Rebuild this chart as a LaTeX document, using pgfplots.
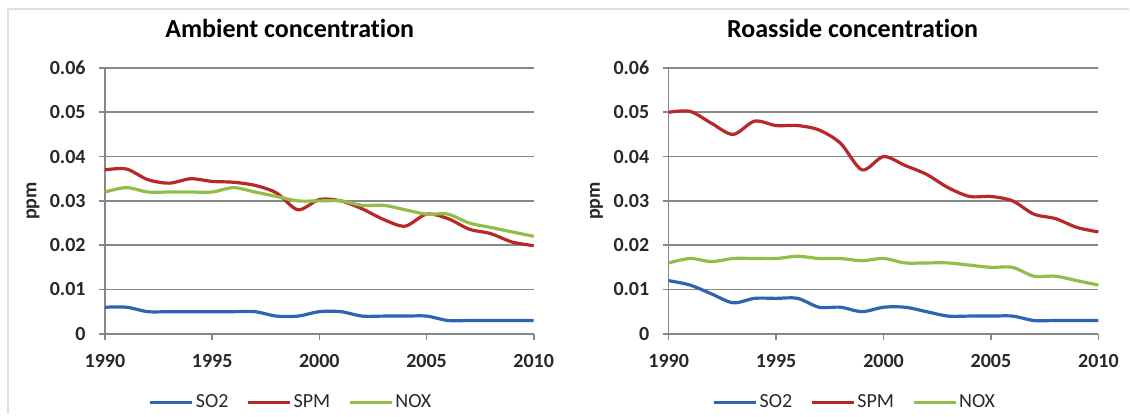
\documentclass[border=0pt]{standalone}
\usepackage{pgfplots}
\pgfplotsset{compat=1.18}
\usepackage{fontspec}
\setmainfont{Carlito}[Ligatures=CommonOff]
\definecolor{cso}{RGB}{47,100,178}
\definecolor{cspm}{RGB}{185,40,40}
\definecolor{cnox}{RGB}{146,190,72}
\definecolor{gridc}{RGB}{135,135,135}
\definecolor{tickc}{RGB}{40,40,40}

\pgfplotsset{
  myax/.style={
    scale only axis, height=133pt,
    xmin=1990, xmax=2010, ymin=0, ymax=0.06, clip=false,
    axis lines*=left,
    axis line style={draw=gridc, line width=0.8pt},
    ymajorgrids, grid style={draw=gridc, line width=0.8pt},
    tick align=outside, major tick length=3pt,
    tick style={draw=gridc, line width=0.8pt},
    xtick={1990,1995,2000,2005,2010},
    xticklabels={1990,1995,2000,2005,2010},
    ytick={0,0.01,0.02,0.03,0.04,0.05,0.06},
    yticklabels={0,0.01,0.02,0.03,0.04,0.05,0.06},
    scaled y ticks=false,
    /pgf/number format/assume math mode=true,
    yticklabel style={font=\bfseries\fontsize{10}{12}\selectfont, text=tickc, inner sep=0pt, anchor=east, xshift=-6.5pt},
    xticklabel style={font=\bfseries\fontsize{10}{12}\selectfont, text=tickc, inner sep=0pt, anchor=north, yshift=-7pt},
    ylabel={ppm},
    ylabel style={at={(axis description cs:-0.168,0.5)}, anchor=center, font=\bfseries\fontsize{10}{12}\selectfont, text=tickc},
    legend columns=3,
    legend style={draw=none, fill=none, font=\fontsize{10}{12}\selectfont, text=tickc,
      anchor=center, nodes={inner sep=1pt},
      /tikz/every even column/.append style={column sep=8pt}},
    legend image code/.code={\draw[#1] (0pt,0pt) -- (21pt,0pt);},
    every axis plot/.append style={line width=1.6pt, smooth, tension=0.5, no markers},
  }
}

\pgfplotstableread{
year so2 spm nox
1990 0.006 0.0370 0.032
1991 0.006 0.0372 0.033
1992 0.005 0.0348 0.032
1993 0.005 0.0340 0.032
1994 0.005 0.0350 0.032
1995 0.005 0.0344 0.032
1996 0.005 0.0342 0.033
1997 0.005 0.0335 0.032
1998 0.004 0.0318 0.031
1999 0.004 0.0280 0.030
2000 0.005 0.0303 0.030
2001 0.005 0.0300 0.030
2002 0.004 0.0282 0.029
2003 0.004 0.0258 0.029
2004 0.004 0.0243 0.028
2005 0.004 0.0270 0.027
2006 0.003 0.0260 0.027
2007 0.003 0.0236 0.025
2008 0.003 0.0226 0.024
2009 0.003 0.0207 0.023
2010 0.003 0.0199 0.022
}\ambient

\pgfplotstableread{
year so2 spm nox
1990 0.012 0.0500 0.0160
1991 0.011 0.0502 0.0170
1992 0.009 0.0475 0.0163
1993 0.007 0.0450 0.0170
1994 0.008 0.0480 0.0170
1995 0.008 0.0470 0.0170
1996 0.008 0.0470 0.0175
1997 0.006 0.0460 0.0170
1998 0.006 0.0430 0.0170
1999 0.005 0.0370 0.0165
2000 0.006 0.0400 0.0170
2001 0.006 0.0380 0.0160
2002 0.005 0.0360 0.0160
2003 0.004 0.0330 0.0160
2004 0.004 0.0310 0.0155
2005 0.004 0.0310 0.0150
2006 0.004 0.0300 0.0150
2007 0.003 0.0270 0.0130
2008 0.003 0.0260 0.0130
2009 0.003 0.0240 0.0120
2010 0.003 0.0230 0.0110
}\roadside

\begin{document}
\begin{tikzpicture}
\path (0pt,0pt) rectangle (565pt,207pt);
\draw[black!12, line width=0.6pt] (4pt,0pt) -- (4pt,202.5pt) -- (565pt,202.5pt);

\begin{axis}[myax, width=214.5pt, at={(52.5pt,40pt)}, anchor=south west,
  title={Ambient concentration},
  title style={at={(axis description cs:0.431,1.105)}, anchor=center, font=\bfseries\fontsize{13}{15}\selectfont},
  legend style={at={(axis description cs:0.434,-0.259)}}]
\addplot[cso] table[x=year,y=so2]{\ambient};
\addlegendentry{SO2}
\addplot[cspm] table[x=year,y=spm]{\ambient};
\addlegendentry{SPM}
\addplot[cnox] table[x=year,y=nox]{\ambient};
\addlegendentry{NOX}
\end{axis}

\begin{axis}[myax, width=215pt, at={(334.5pt,40pt)}, anchor=south west,
  title={Roasside concentration},
  title style={at={(axis description cs:0.428,1.105)}, anchor=center, font=\bfseries\fontsize{13}{15}\selectfont},
  legend style={at={(axis description cs:0.433,-0.259)}}]
\addplot[cso] table[x=year,y=so2]{\roadside};
\addlegendentry{SO2}
\addplot[cspm] table[x=year,y=spm]{\roadside};
\addlegendentry{SPM}
\addplot[cnox] table[x=year,y=nox]{\roadside};
\addlegendentry{NOX}
\end{axis}
\end{tikzpicture}
\end{document}
